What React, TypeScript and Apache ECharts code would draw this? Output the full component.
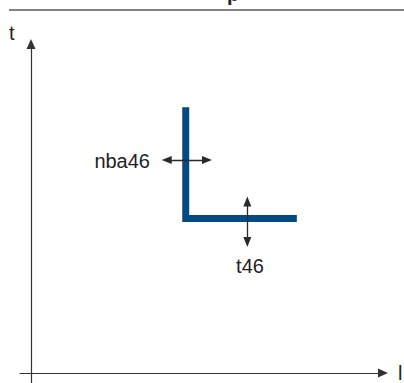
import React, { useEffect, useRef } from "react";
import * as echarts from "echarts";

// L-shaped profile (x, y in chart units)
const profileX = [42.2, 42.2, 72.5];
const profileY = [80, 46.5, 46.5];

// double arrows: [x1, y1, x2, y2]
const horizArrow = [37.0, 64.1, 48.0, 64.1];
const vertArrow = [59.0, 51.6, 59.0, 39.4];

const labels = ["nba46", "t46"];
const axisNames = ["l", "t"];

export default function App() {
  const ref = useRef<HTMLDivElement>(null);
  useEffect(() => {
    if (!ref.current) return;
    const chart = echarts.init(ref.current, null, { renderer: "svg" });
    const font = "'Liberation Sans', Arial, sans-serif";
    const axisColor = "#333";
    const arrowColor = "#2a2a2a";
    chart.setOption({
      animation: false,
      grid: { left: 20, right: 21, top: 44, bottom: 0 },
      xAxis: {
        type: "value",
        min: -3,
        max: 96,
        axisLine: {
          onZero: true,
          lineStyle: { color: axisColor, width: 1.2 },
          symbol: ["none", "triangle"],
          symbolSize: [9, 10],
        },
        axisTick: { show: false },
        axisLabel: { show: false },
        splitLine: { show: false },
      },
      yAxis: {
        type: "value",
        min: -3,
        max: 99,
        axisLine: {
          onZero: true,
          lineStyle: { color: axisColor, width: 1.2 },
          symbol: ["none", "triangle"],
          symbolSize: [9, 10],
        },
        axisTick: { show: false },
        axisLabel: { show: false },
        splitLine: { show: false },
      },
      series: [
        {
          type: "line",
          data: profileX.map((x, i) => [x, profileY[i]]),
          symbol: "none",
          lineStyle: { color: "#064a84", width: 7, join: "miter", cap: "butt" },
          silent: true,
          markLine: {
            silent: true,
            symbol: ["triangle", "triangle"],
            symbolSize: [8, 10],
            label: { show: false },
            lineStyle: { color: arrowColor, width: 1.3, type: "solid" },
            data: [
              [
                { coord: [horizArrow[0], horizArrow[1]] },
                { coord: [horizArrow[2], horizArrow[3]] },
              ],
              [
                { coord: [vertArrow[0], vertArrow[1]] },
                { coord: [vertArrow[2], vertArrow[3]] },
              ],
            ],
          },
        },
      ],
      graphic: [
        {
          type: "line",
          shape: { x1: 9, y1: 10, x2: 404, y2: 10 },
          style: { stroke: "#5a5a5a", lineWidth: 1.5 },
        },
        {
          type: "text",
          x: 233,
          y: 4,
          style: {
            text: "p",
            font: `bold 20px ${font}`,
            fill: "#222",
            textAlign: "center",
            textVerticalAlign: "bottom",
          },
        },
        {
          type: "text",
          x: 150,
          y: 160.5,
          style: {
            text: labels[0],
            font: `20px ${font}`,
            fill: "#222",
            textAlign: "right",
            textVerticalAlign: "middle",
          },
        },
        {
          type: "text",
          x: 250,
          y: 266,
          style: {
            text: labels[1],
            font: `20px ${font}`,
            fill: "#222",
            textAlign: "center",
            textVerticalAlign: "middle",
          },
        },
        {
          type: "text",
          x: 9,
          y: 33,
          style: {
            text: axisNames[1],
            font: `20px ${font}`,
            fill: "#222",
            textAlign: "left",
            textVerticalAlign: "middle",
          },
        },
        {
          type: "text",
          x: 398,
          y: 373,
          style: {
            text: axisNames[0],
            font: `20px ${font}`,
            fill: "#222",
            textAlign: "left",
            textVerticalAlign: "middle",
          },
        },
      ],
    });
    return () => chart.dispose();
  }, []);
  return <div ref={ref} style={{ width: 404, height: 383, position: "absolute", left: 0, top: 0 }} />;
}
